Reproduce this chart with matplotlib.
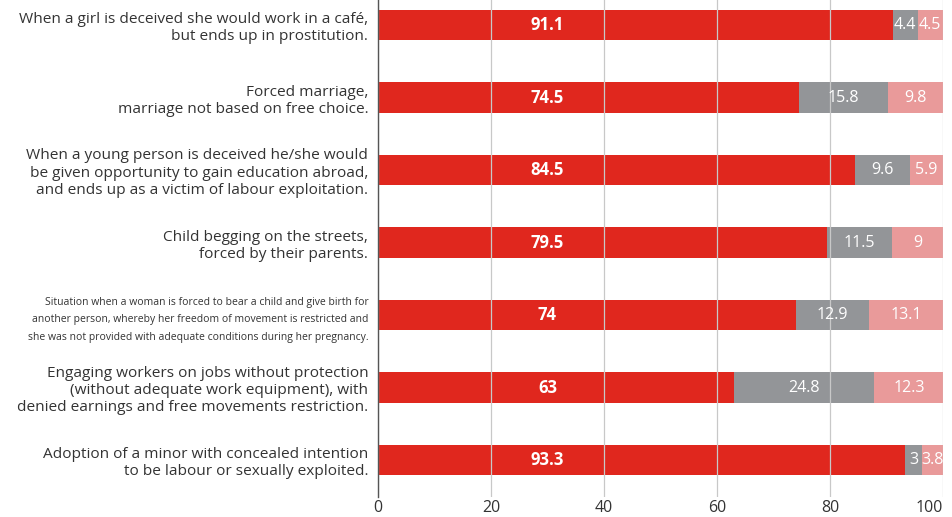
import matplotlib
matplotlib.use("Agg")
import matplotlib.pyplot as plt
import numpy as np

plt.rcParams['font.family'] = ['Open Sans', 'DejaVu Sans']

categories = [
    "When a girl is deceived she would work in a café,\nbut ends up in prostitution.",
    "Forced marriage,\nmarriage not based on free choice.",
    "When a young person is deceived he/she would\nbe given opportunity to gain education abroad,\nand ends up as a victim of labour exploitation.",
    "Child begging on the streets,\nforced by their parents.",
    "Situation when a woman is forced to bear a child and give birth for\nanother person, whereby her freedom of movement is restricted and\nshe was not provided with adequate conditions during her pregnancy.",
    "Engaging workers on jobs without protection\n(without adequate work equipment), with\ndenied earnings and free movements restriction.",
    "Adoption of a minor with concealed intention\nto be labour or sexually exploited.",
]
yes_vals = [91.1, 74.5, 84.5, 79.5, 74, 63, 93.3]
no_vals = [4.4, 15.8, 9.6, 11.5, 12.9, 24.8, 3]
dk_vals = [4.5, 9.8, 5.9, 9, 13.1, 12.3, 3.8]

red = '#e0271e'
grey = '#939598'
pink = '#e99a9a'

fig = plt.figure(figsize=(9.53, 5.17), dpi=100)
ax = fig.add_axes([378 / 953, 1 - 497 / 517, 565 / 953, 497 / 517])

y = np.arange(len(categories))
h = 0.42
ax.barh(y, yes_vals, height=h, color=red, zorder=1)
ax.barh(y, no_vals, left=yes_vals, height=h, color=grey, zorder=1)
left2 = np.array(yes_vals) + np.array(no_vals)
ax.barh(y, dk_vals, left=left2, height=h, color=pink, zorder=1)

# the big red share is labelled at a fixed spot, the others mid-segment
for i in range(len(y)):
    ax.text(30, y[i], f"{yes_vals[i]:g}", ha='center', va='center',
            color='white', fontsize=12, fontweight='bold', zorder=3)
    ax.text(yes_vals[i] + no_vals[i] / 2, y[i], f"{no_vals[i]:g}", ha='center',
            va='center', color='white', fontsize=11.5, zorder=3)
    ax.text(left2[i] + dk_vals[i] / 2, y[i], f"{dk_vals[i]:g}", ha='center',
            va='center', color='white', fontsize=11.5, zorder=3)

ax.set_xlim(0, 100)
ax.set_ylim(6.51, -0.345)
ax.set_xticks([0, 20, 40, 60, 80, 100])
ax.tick_params(axis='x', length=0, labelsize=11.5, colors='#333333', pad=2)
ax.get_xticklabels()[-1].set_horizontalalignment('right')
ax.set_yticks(y)
ax.set_yticklabels(categories, fontsize=11.1, color='#333333', linespacing=1.2)
ax.tick_params(axis='y', length=0, pad=7)
small = ax.get_yticklabels()[4]
small.set_fontsize(7.5)
small.set_linespacing(1.8)

ax.grid(axis='x', color='#c8c8c8', linewidth=0.9, zorder=2)
ax.set_axisbelow(False)
for s in ['top', 'right', 'bottom']:
    ax.spines[s].set_visible(False)
ax.spines['left'].set_color('#555555')
ax.spines['left'].set_linewidth(1.0)
ax.spines['left'].set_zorder(4)

fig.savefig('out.png', dpi=100)
